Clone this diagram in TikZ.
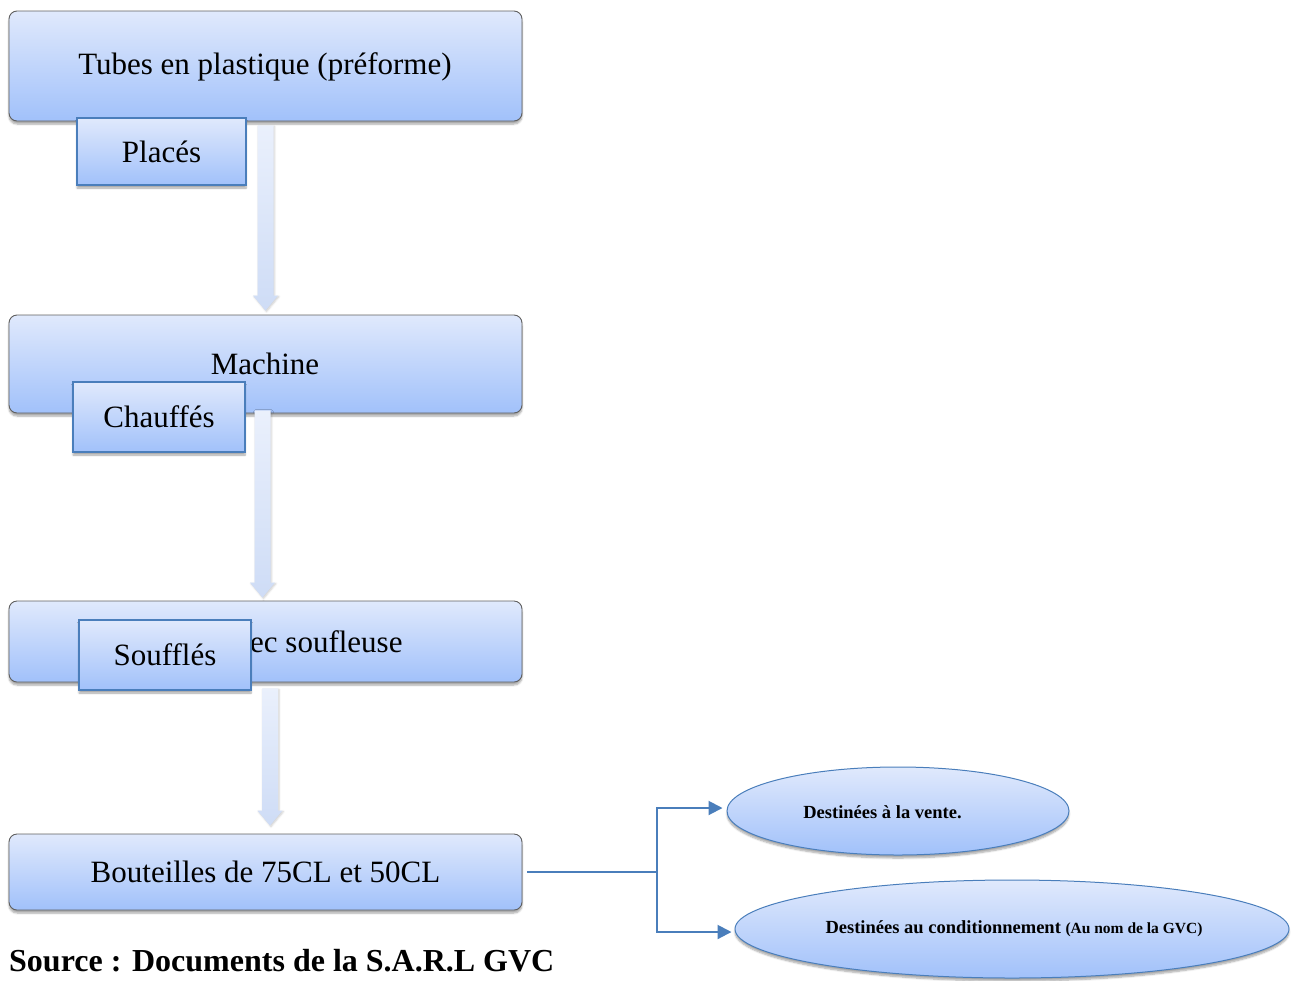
\documentclass[tikz,border=0pt]{standalone}
\usepackage{fontspec}
\setmainfont{Liberation Serif}
\usetikzlibrary{shapes.geometric,arrows.meta,shadows.blur,calc}

\definecolor{boxtop}{RGB}{224,233,252}
\definecolor{boxbot}{RGB}{161,193,250}
\definecolor{boxline}{RGB}{95,95,95}
\definecolor{accent}{RGB}{74,126,187}
\definecolor{arrowtop}{RGB}{234,240,252}
\definecolor{arrowbot}{RGB}{206,220,246}

\tikzset{
  softshadow/.style={blur shadow={shadow xshift=0pt, shadow yshift=-3pt, shadow opacity=35, shadow blur steps=6}},
  stage/.style={draw=boxline, line width=0.9pt, rounded corners=8pt,
    top color=boxtop, bottom color=boxbot, softshadow,
    font=\fontsize{31}{36}\selectfont, inner sep=0pt},
  action/.style={draw=accent, line width=1.3pt,
    top color=boxtop, bottom color=boxbot, softshadow,
    font=\fontsize{31}{36}\selectfont, inner sep=0pt},
  outcome/.style={ellipse, draw=accent, line width=1pt,
    top color=boxtop, bottom color=boxbot, softshadow, inner sep=0pt},
  outtext/.style={font=\bfseries\fontsize{18.5}{22}\selectfont, inner sep=0pt},
  conn/.style={draw=accent, line width=2pt},
  tip/.style={-{Triangle[length=14pt,width=14pt]}},
  flow/.style={top color=arrowtop, bottom color=arrowbot, draw=none,
    blur shadow={shadow xshift=1pt, shadow yshift=-1pt, shadow opacity=20, shadow blur steps=4}}
}

% broad block arrow between two stages:
% #1 horizontal offset, #2 upper node, #3 lower node, #4 top gap, #5 bottom gap
\newcommand\flowarrow[5]{%
  \path[flow]
    ($(#2.south)+(#1-8,#4)$) --
    ($(#3.north)+(#1-8,-#5-15)$) --
    ($(#3.north)+(#1-12.5,-#5-15)$) --
    ($(#3.north)+(#1,-#5)$) --
    ($(#3.north)+(#1+12.5,-#5-15)$) --
    ($(#3.north)+(#1+8,-#5-15)$) --
    ($(#2.south)+(#1+8,#4)$) -- cycle;}

\begin{document}
\begin{tikzpicture}[x=1pt,y=-1pt]
  \useasboundingbox (0,0) rectangle (1297,980);

  % main stages
  \node[stage, minimum width=513pt, minimum height=110pt] (b1) at (265.5,66) {};
  \node[font=\fontsize{31}{36}\selectfont, inner sep=0pt] (b1text) at (265,67) {Tubes en plastique (préforme)};
  \node[stage, minimum width=513pt, minimum height=98pt] (b2) at (265.5,364) {};
  \node[font=\fontsize{31}{36}\selectfont, inner sep=0pt] (b2text) at (265,364) {Machine};
  \node[stage, minimum width=513pt, minimum height=81pt] (b3) at (265.5,641.5) {};
  \node[anchor=west, font=\fontsize{31}{36}\selectfont, inner sep=0pt] (b3text) at (250,642) {ec soufleuse};
  \node[stage, minimum width=513pt, minimum height=76pt] (b4) at (265.5,872) {Bouteilles de 75CL et 50CL};

  % flow between stages
  \flowarrow{0}{b1}{b2}{4}{4}
  \flowarrow{-3}{b2}{b3}{-3}{3}
  \flowarrow{4.5}{b3}{b4}{6}{8}

  % actions
  \node[action, minimum width=169pt, minimum height=67pt] (a1) at (161.5,151.5) {Placés};
  \node[action, minimum width=172pt, minimum height=70pt] (a2) at (159,417) {Chauffés};
  \node[action, minimum width=172pt, minimum height=70pt] (a3) at (165,655) {Soufflés};

  % outcomes
  \node[outcome, minimum width=342pt, minimum height=88pt] (e1) at (898,811) {};
  \node[outtext] (e1text) at (882.5,812) {Destinées à la vente.};
  \node[outcome, minimum width=554pt, minimum height=98pt] (e2) at (1012,929) {};
  \node[outtext] (e2text) at (1014,929) {Destinées au conditionnement {\fontsize{15.5}{18}\selectfont (Au nom de la GVC)}};

  % split towards the outcomes
  \coordinate (fork) at ([xshift=135pt]b4.east);
  \draw[conn] ([xshift=5pt]b4.east) -- (fork);
  \draw[conn,tip] (fork) |- ([xshift=-4pt]e1.west |- 0,808);
  \draw[conn,tip] (fork) |- ([xshift=-3pt]e2.west |- 0,932);

  % source line
  \node[anchor=base west, font=\bfseries\fontsize{32}{38}\selectfont, inner sep=0pt] (src) at (9,971) {Source : Documents de la S.A.R.L GVC};
\end{tikzpicture}
\end{document}
